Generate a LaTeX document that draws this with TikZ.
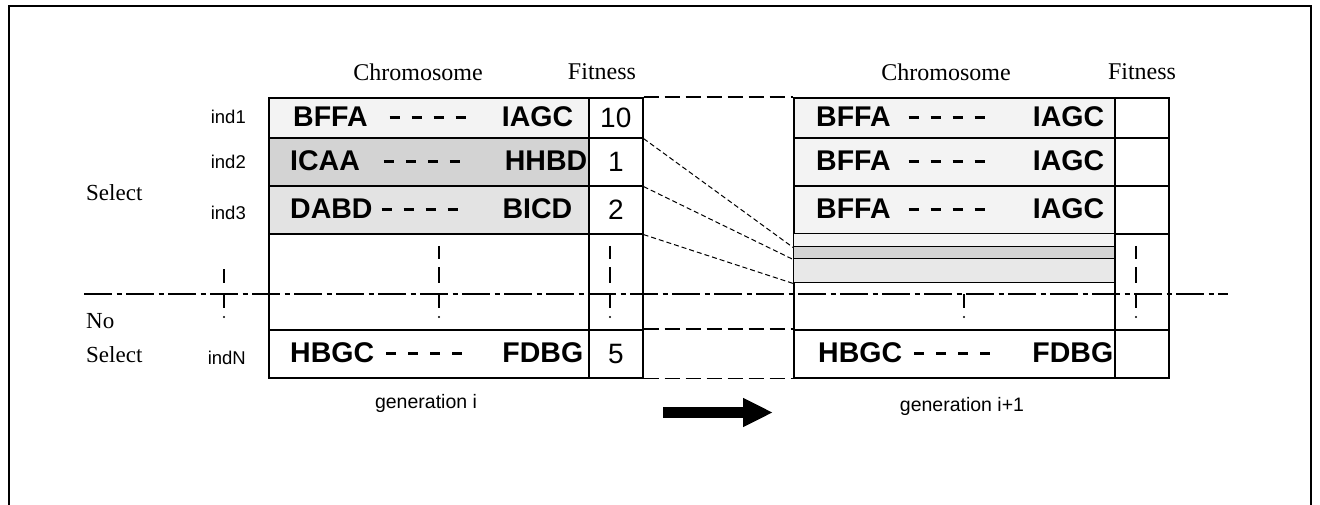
\documentclass[tikz,border=0pt]{standalone}
\usepackage{fontspec}
\setmainfont{Liberation Serif}
\newfontfamily\arialfont{Liberation Sans}
\usetikzlibrary{arrows.meta}

\definecolor{shadeA}{HTML}{F3F3F3}
\definecolor{shadeB}{HTML}{D3D3D3}
\definecolor{shadeC}{HTML}{E3E3E3}
\definecolor{shadeD}{HTML}{E8E8E8}

% gene string: first block, gap, four dashes, last block pushed right
\newcommand\genedash{\rule[7.5pt]{10pt}{3.2pt}}
\newcommand\genegap{\hspace{12pt}}
\newcommand\genedashes{\genedash\genegap\genedash\genegap\genedash\genegap\genedash}
\newcommand\genestr[4]{\hbox to #1{#2\hspace{#3}\genedashes\hfill #4}}

\begin{document}
\begin{tikzpicture}[x=1pt,y=-1pt,
  cell/.style={draw, line width=1.6pt, inner sep=0pt, anchor=north west,
    font=\arialfont\fontsize{28}{30}\selectfont},
  stripe/.style={draw, line width=1.4pt, inner sep=0pt, anchor=north west,
    minimum width=321pt},
  genetext/.style={inner sep=0pt, anchor=west,
    font=\arialfont\bfseries\fontsize{28.5}{30}\selectfont},
  head/.style={inner sep=0pt, font=\fontsize{24}{26}\selectfont},
  side/.style={inner sep=0pt, anchor=west, font=\fontsize{23}{25}\selectfont},
  indlab/.style={inner sep=0pt, anchor=east, font=\arialfont\fontsize{18.5}{20}\selectfont},
  genlab/.style={inner sep=0pt, font=\arialfont\fontsize{19.5}{21}\selectfont},
  tick/.style={line width=1.5pt},
  copyline/.style={line width=1pt, dash pattern=on 5pt off 3pt},
  gapline/.style={line width=1.5pt, dash pattern=on 15pt off 6pt},
  divider/.style={line width=1.4pt, dash pattern=on 28pt off 4.5pt on 5pt off 4.5pt},
]
\useasboundingbox (0,0) rectangle (1320,505);

% outer frame (open at the bottom)
\draw[line width=2.8pt] (9,505) -- (9,6) -- (1311,6) -- (1311,505);

% ---- generation i table ----
\node[cell, minimum width=320pt, minimum height=40pt, fill=shadeA] (L1c) at (268,97) {};
\node[cell, minimum width=54pt,  minimum height=40pt] (L1f) at (588,97) {10};
\node[cell, minimum width=320pt, minimum height=48pt, fill=shadeB] (L2c) at (268,137) {};
\node[cell, minimum width=54pt,  minimum height=48pt] (L2f) at (588,137) {1};
\node[cell, minimum width=320pt, minimum height=48pt, fill=shadeC] (L3c) at (268,185) {};
\node[cell, minimum width=54pt,  minimum height=48pt] (L3f) at (588,185) {2};
\node[cell, minimum width=320pt, minimum height=96pt] (LEc) at (268,233) {};
\node[cell, minimum width=54pt,  minimum height=96pt] (LEf) at (588,233) {};
\node[cell, minimum width=320pt, minimum height=48pt] (LNc) at (268,329) {};
\node[cell, minimum width=54pt,  minimum height=48pt] (LNf) at (588,329) {5};

% ---- generation i+1 table ----
\node[cell, minimum width=321pt, minimum height=40pt, fill=shadeA] (R1c) at (793,97) {};
\node[cell, minimum width=54pt,  minimum height=40pt] (R1f) at (1114,97) {};
\node[cell, minimum width=321pt, minimum height=48pt, fill=shadeA] (R2c) at (793,137) {};
\node[cell, minimum width=54pt,  minimum height=48pt] (R2f) at (1114,137) {};
\node[cell, minimum width=321pt, minimum height=48pt, fill=shadeA] (R3c) at (793,185) {};
\node[cell, minimum width=54pt,  minimum height=48pt] (R3f) at (1114,185) {};
\node[cell, minimum width=321pt, minimum height=96pt] (REc) at (793,233) {};
\node[cell, minimum width=54pt,  minimum height=96pt] (REf) at (1114,233) {};
\node[cell, minimum width=321pt, minimum height=48pt] (RNc) at (793,329) {};
\node[cell, minimum width=54pt,  minimum height=48pt] (RNf) at (1114,329) {};

% copied individuals, squeezed into thin stripes
\node[stripe, minimum height=13pt, fill=shadeA] (S1) at (793,233) {};
\node[stripe, minimum height=12pt, fill=shadeB] (S2) at (793,246) {};
\node[stripe, minimum height=24pt, fill=shadeD] (S3) at (793,258) {};

% selection boundary
\coordinate (dvL) at (84,294);
\coordinate (dvR) at (1228,294);
\draw[divider] (dvL) -- (dvR);

% vertical ellipsis marks
\foreach \x in {439,610,1136} {
  \draw[tick] (\x,246) -- (\x,259);
  \draw[tick] (\x,267) -- (\x,283);
}
\draw[tick] (224,269) -- (224,283);
\foreach \x in {224,439,610,964,1136} {
  \draw[tick] (\x,294) -- (\x,308);
  \fill (\x,317) circle (1.1pt);
}

% reproduction links
\draw[copyline] (L1f.south east) -- (S1.south west);
\draw[copyline] (L2f.south east) -- (S2.south west);
\draw[copyline] (L3f.south east) -- (S3.south west);

% dashed frame between the two tables
\draw[gapline] (L1f.north east) -- (R1c.north west);
\draw[gapline] (LNf.north east) -- (RNc.north west);
\draw[gapline] (LNf.south east) -- (RNc.south west);

% chromosome strings
\node[genetext] (g1) at (293,117) {\genestr{280pt}{BFFA}{22pt}{IAGC}};
\node[genetext] (g2) at (290,161) {\genestr{297pt}{ICAA}{24pt}{HHBD}};
\node[genetext] (g3) at (290,209) {\genestr{282pt}{DABD}{9pt}{BICD}};
\node[genetext] (gN) at (290,353) {\genestr{293pt}{HBGC}{12pt}{FDBG}};
\node[genetext] (h1) at (816,117) {\genestr{288pt}{BFFA}{18pt}{IAGC}};
\node[genetext] (h2) at (816,161) {\genestr{288pt}{BFFA}{18pt}{IAGC}};
\node[genetext] (h3) at (816,209) {\genestr{288pt}{BFFA}{18pt}{IAGC}};
\node[genetext] (hN) at (818,353) {\genestr{295pt}{HBGC}{12pt}{FDBG}};

% column headings
\node[head] (chL) at (418,72) {Chromosome};
\node[head] (fhL) at (602,72) {Fitness};
\node[head] (chR) at (946,72) {Chromosome};
\node[head] (fhR) at (1142,72) {Fitness};

% row labels
\node[indlab] (i1) at (246,117) {ind1};
\node[indlab] (i2) at (246,162) {ind2};
\node[indlab] (i3) at (246,213) {ind3};
\node[indlab] (iN) at (246,358) {indN};

\node[side] (sel) at (86,193) {Select};
\node[side] (no)  at (86,321) {No};
\node[side] (nsel) at (86,355) {Select};

% generation captions
\node[genlab] (genA) at (426,403) {generation i};
\node[genlab] (genB) at (962,406) {generation i+1};

% time arrow
\coordinate (arA) at (663,412.5);
\coordinate (arB) at (773,412.5);
\draw[line width=11.5pt, -{Triangle[length=30pt,width=27pt]}] (arA) -- (arB);
\end{tikzpicture}
\end{document}
